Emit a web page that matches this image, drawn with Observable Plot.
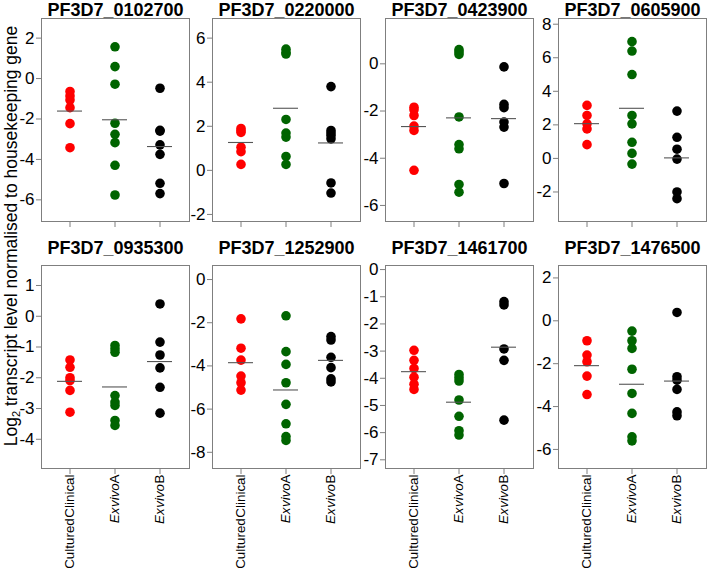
<!DOCTYPE html>
<html><head><meta charset="utf-8">
<script src="https://cdn.jsdelivr.net/npm/d3@7"></script>
<script src="https://cdn.jsdelivr.net/npm/@observablehq/plot@0.6"></script>
<style>
body{margin:0;background:#fff;}
#chart{position:relative;width:709px;height:571px;overflow:hidden;font-family:"Liberation Sans",Arial,sans-serif;background:#fff;}
#chart svg{position:absolute;background:transparent;overflow:visible;}
.ylab{position:absolute;left:12px;top:236px;transform:translate(-50%,-50%) rotate(-90deg);white-space:nowrap;font-size:17.5px;color:#000;line-height:1;}
.ylab sub{font-size:11px;vertical-align:-3px;}
</style></head><body><div id="chart"><div class="ylab">Log<sub>2</sub> transcript level normalised to housekeeping gene</div></div>
<script>
const genes = ["PF3D7_0102700","PF3D7_0220000","PF3D7_0423900","PF3D7_0605900",
               "PF3D7_0935300","PF3D7_1252900","PF3D7_1461700","PF3D7_1476500"];
const groups = ["Cultured Clinical","Ex vivo A","Ex vivo B"];
const groupColors = ["#ff0000","#006400","#000000"];

const culturedClinical = [
  [-0.64, -0.86, -1.06, -1.44, -2.23, -3.42],
  [1.9, 1.8, 1.72, 1.05, 0.85, 0.27],
  [-1.84, -1.95, -2.19, -2.64, -2.82, -4.51],
  [3.16, 2.56, 2.06, 1.76, 0.82],
  [-1.42, -1.66, -2.0, -2.09, -2.41, -3.12],
  [-1.82, -3.18, -3.73, -4.47, -4.78, -5.12],
  [-2.97, -3.34, -3.64, -3.96, -4.22, -4.41],
  [-0.93, -1.6, -1.91, -2.58, -3.44]
];
const exVivoA = [
  [1.57, 0.59, -0.28, -2.21, -2.76, -3.17, -4.29, -5.76],
  [5.5, 5.35, 5.28, 2.31, 1.69, 1.51, 0.63, 0.27],
  [0.6, 0.5, 0.4, -2.25, -3.42, -3.6, -5.11, -5.44],
  [6.96, 6.4, 5.0, 2.56, 2.06, 0.96, 0.3, -0.34],
  [-0.95, -1.06, -1.17, -2.58, -2.79, -2.9, -3.39, -3.55],
  [-1.68, -3.34, -3.93, -4.78, -5.78, -6.68, -7.27, -7.45],
  [-3.86, -3.98, -4.1, -4.8, -5.4, -5.93, -6.09],
  [-0.48, -0.93, -1.29, -2.26, -3.39, -4.32, -5.41, -5.6]
];
const exVivoB = [
  [-0.48, -2.56, -2.6, -3.28, -3.75, -5.18, -5.69],
  [3.8, 1.81, 1.69, 1.58, 1.43, -0.57, -1.03],
  [-0.13, -1.72, -1.86, -2.47, -2.68, -5.07],
  [2.82, 1.26, 0.55, -0.04, -2.0, -2.4],
  [0.4, -0.84, -1.26, -1.68, -2.31, -3.15],
  [-2.64, -2.8, -3.6, -4.08, -4.6, -4.74],
  [-1.18, -1.3, -2.92, -3.34, -5.54],
  [0.39, -2.61, -2.77, -3.2, -4.25, -4.43]
];
const yTickValues = [
  [-6, -4, -2, 0, 2],
  [-2, 0, 2, 4, 6],
  [-6, -4, -2, 0],
  [-2, 0, 2, 4, 6, 8],
  [-4, -3, -2, -1, 0, 1],
  [-8, -6, -4, -2, 0],
  [-7, -6, -5, -4, -3, -2, -1, 0],
  [-6, -4, -2, 0, 2]
];
const yLimits = [
  [-7.07, 2.97], [-2.32, 6.89], [-6.68, 1.92], [-3.76, 8.34],
  [-4.95, 1.65], [-8.75, 0.65], [-7.32, 0.15], [-6.89, 2.58]
];

const chart = document.getElementById("chart");
const boxLefts = [41, 212, 385, 558];
const boxW = 148, boxH = 203, mL = 40, mR = 2, mT = 18;

genes.forEach((gene, i) => {
  const row = Math.floor(i / 4), col = i % 4;
  const rows = [];
  [culturedClinical[i], exVivoA[i], exVivoB[i]].forEach((vals, g) =>
    vals.forEach(v => rows.push({group: groups[g], value: v})));
  const bottom = row === 1;
  const mB = bottom ? 104 : 10;
  const svg = Plot.plot({
    width: mL + boxW + mR,
    height: mT + boxH + mB,
    marginLeft: mL, marginRight: mR, marginTop: mT, marginBottom: mB,
    style: {fontFamily: "Liberation Sans, Arial, sans-serif", background: "transparent", overflow: "visible"},
    x: {type: "band", domain: groups, paddingInner: 0.4348, paddingOuter: 0.3261, align: 0.5, label: null},
    y: {domain: yLimits[i], label: null},
    color: {domain: groups, range: groupColors},
    marks: [
      Plot.frame({stroke: "#7f7f7f"}),
      Plot.axisY({ticks: yTickValues[i], tickFormat: d => String(d), tickSize: 5, tickPadding: 2,
                  fontSize: 17, stroke: "#7f7f7f", fill: "#000", label: null}),
      bottom
        ? Plot.axisX({tickSize: 6, tickPadding: 0, tickRotate: -90, fontSize: 13.4,
                      stroke: "#7f7f7f", fill: "#000", label: null})
        : Plot.axisX({tickSize: 6, tickFormat: () => "", stroke: "#7f7f7f", label: null}),
      Plot.dot(rows, {x: "group", y: "value", fill: "group", r: 4.8}),
      Plot.tickY(rows, Plot.groupX({y: "mean"}, {x: "group", y: "value", stroke: "#555", strokeWidth: 1.1})),
      Plot.text([gene], {text: d => d, frameAnchor: "top", lineAnchor: "bottom", dy: bottom ? -12 : -3,
                         fontSize: 18, fontWeight: "bold", fill: "#000"})
    ]
  });
  d3.select(svg).selectAll("text").each(function () {
    const t = this.textContent;
    if (groups.includes(t)) this.style.wordSpacing = "-3.2px";
    if (t.startsWith("Ex vivo ")) {
      const rest = t.slice("Ex vivo".length);
      this.textContent = "";
      d3.select(this).append("tspan").attr("font-style", "italic").attr("fill", "#000").text("Ex vivo");
      d3.select(this).append("tspan").attr("fill", "#000").text(rest);
    }
  });
  svg.style.left = (boxLefts[col] - mL) + "px";
  svg.style.top = (row === 0 ? 0 : 247) + "px";
  chart.appendChild(svg);
});
</script>
</body></html>
